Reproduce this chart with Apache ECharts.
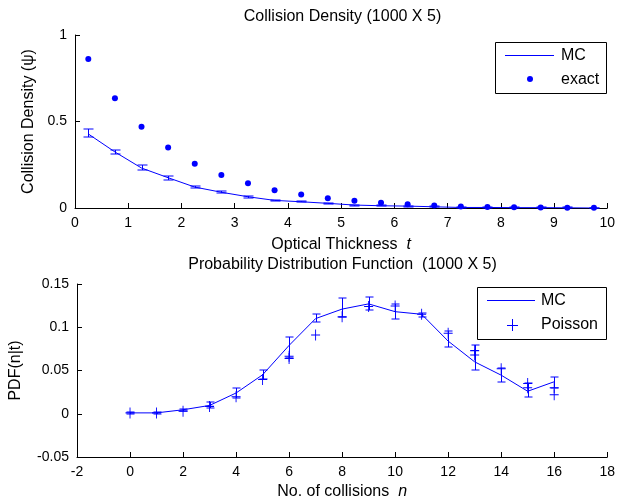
<!DOCTYPE html>
<html>
<head>
<meta charset="utf-8">
<script src="https://cdn.jsdelivr.net/npm/echarts@6/dist/echarts.min.js"></script>
<style>html,body{margin:0;padding:0;background:#fff}#c{width:618px;height:502px}</style>
</head>
<body>
<div id="c"></div>
<script>
// ---- Top panel: collision density ----
const tVals = [0.25,0.75,1.25,1.75,2.25,2.75,3.25,3.75,4.25,4.75,5.25,5.75,6.25,6.75,7.25,7.75,8.25,8.75,9.25,9.75];
const mcDensity     = [0.428,0.324,0.231,0.175,0.121,0.091,0.065,0.044,0.036,0.027,0.017,0.013,0.011,0.007,0.003,0.003,0.002,0.002,0.001,0.000];
const mcDensityLow  = [0.410,0.313,0.220,0.164,0.113,0.085,0.060,0.040,0.032,0.024,0.014,0.010,0.008,0.005,0.001,0.001,0.000,0.000,0.000,0.000];
const mcDensityHigh = [0.455,0.335,0.246,0.185,0.128,0.096,0.069,0.048,0.040,0.030,0.020,0.016,0.014,0.009,0.005,0.005,0.004,0.004,0.003,0.002];
const exactDensity  = [0.861,0.634,0.470,0.349,0.256,0.191,0.143,0.102,0.078,0.057,0.042,0.030,0.021,0.014,0.008,0.006,0.004,0.003,0.002,0.001];

// ---- Bottom panel: PDF(n|t) ----
const nVals   = [0,1,2,3,4,5,6,7,8,9,10,11,12,13,14,15,16];
const mcPdf     = [0.001,0.001,0.0046,0.0096,0.024,0.045,0.079,0.110,0.121,0.127,0.118,0.115,0.084,0.060,0.0446,0.026,0.037];
const mcPdfLow  = [0.000,0.000,0.0030,0.0070,0.018,0.040,0.065,0.1065,0.112,0.1195,0.110,0.112,0.077,0.051,0.037,0.019,0.030];
const mcPdfHigh = [0.002,0.002,0.0060,0.0140,0.030,0.051,0.0885,0.1155,0.134,0.135,0.1265,0.116,0.0955,0.079,0.053,0.0355,0.043];
const poissonPdf = [0.001,0.001,0.003,0.0085,0.0196,0.0396,0.064,0.091,0.112,0.124,0.1245,0.115,0.093,0.073,0.052,0.035,0.030];
const poissonExtraN   = [6,13,15,16];
const poissonExtraPdf = [0.0665,0.068,0.030,0.022];

const topTicks = {min:0,max:10,interval:1};
const botTicks = {min:-2,max:18,interval:2};

const FONT = '"Liberation Sans", Arial, sans-serif';
const BLUE = '#0000ff';

function errBars(xs, lo, hi, capHalf, xi, yi) {
  return {
    type:'custom', xAxisIndex:xi, yAxisIndex:yi, z:3,
    itemStyle:{color:BLUE, borderColor:BLUE},
    data: xs.map((x,i)=>[x, lo[i], hi[i]]),
    encode:{x:0, y:[1,2]},
    renderItem: function(params, api){
      const x = api.value(0);
      const a = api.coord([x, api.value(1)]);
      const b = api.coord([x, api.value(2)]);
      const px = Math.round(a[0]) + 0.5;
      const ya = Math.round(a[1]), yb = Math.round(b[1]);
      const d = 'M' + px + ',' + ya + 'L' + px + ',' + yb +
                'M' + (px-capHalf) + ',' + ya + 'L' + (px+capHalf) + ',' + ya +
                'M' + (px-capHalf) + ',' + yb + 'L' + (px+capHalf) + ',' + yb;
      return {type:'path', shape:{pathData:d},
              style:{stroke:BLUE, fill:'none', lineWidth:1}};
    }
  };
}

function axisBase() {
  return {
    axisLine:{show:true, onZero:false, lineStyle:{color:'#000', width:1}},
    axisTick:{show:true, inside:true, length:5, lineStyle:{color:'#000'}},
    axisLabel:{color:'#000', fontSize:14, fontFamily:FONT},
    splitLine:{show:false},
    nameTextStyle:{color:'#000', fontSize:16, fontFamily:FONT, rich:{i:{fontStyle:'italic', fontSize:16, fontFamily:FONT, color:'#000'}}}
  };
}

const crossPath = 'path://M5,0L5,10M0,5L10,5';

function lt(text) { return {text:text, fill:'#000', font:'16px ' + FONT, textVerticalAlign:'middle'}; }

const option = {
  animation:false,
  backgroundColor:'#fff',
  title:[
    {text:'Collision Density (1000 X 5)', left:342.5, top:9, textAlign:'center', padding:0,
     textStyle:{fontSize:16, fontWeight:'normal', color:'#000', fontFamily:FONT}},
    {text:'Probability Distribution Function  (1000 X 5)', left:342.5, top:257, textAlign:'center', padding:0,
     textStyle:{fontSize:16, fontWeight:'normal', color:'#000', fontFamily:FONT}}
  ],
  grid:[
    {left:75, top:35, width:535, height:173},
    {left:75, top:284, width:535, height:173}
  ],
  xAxis:[
    Object.assign(axisBase(), {type:'value', gridIndex:0, min:topTicks.min, max:topTicks.max, interval:topTicks.interval,
      name:'Optical Thickness  {i|t}', nameLocation:'middle', nameGap:29}),
    Object.assign(axisBase(), {type:'value', gridIndex:1, min:botTicks.min, max:botTicks.max, interval:botTicks.interval,
      name:'No. of collisions  {i|n}', nameLocation:'middle', nameGap:27})
  ],
  yAxis:[
    Object.assign(axisBase(), {type:'value', gridIndex:0, min:0, max:1, interval:0.5,
      name:'Collision Density (ψ)', nameLocation:'middle', nameGap:34}),
    Object.assign(axisBase(), {type:'value', gridIndex:1, min:-0.05, max:0.15, interval:0.05,
      name:'PDF(n|t)', nameLocation:'middle', nameGap:53})
  ],
  series:[
    {name:'MC', type:'line', xAxisIndex:0, yAxisIndex:0, data:tVals.map((t,i)=>[t, mcDensity[i]]),
     showSymbol:false, lineStyle:{color:BLUE, width:1}, itemStyle:{color:BLUE}, z:4},
    errBars(tVals, mcDensityLow, mcDensityHigh, 5, 0, 0),
    {name:'exact', type:'scatter', xAxisIndex:0, yAxisIndex:0, data:tVals.map((t,i)=>[t, exactDensity[i]]),
     symbol:'circle', symbolSize:6, itemStyle:{color:BLUE, opacity:1}, z:5},

    {name:'MC', type:'line', xAxisIndex:1, yAxisIndex:1, data:nVals.map((n,i)=>[n, mcPdf[i]]),
     showSymbol:false, lineStyle:{color:BLUE, width:1}, itemStyle:{color:BLUE}, z:4},
    errBars(nVals, mcPdfLow, mcPdfHigh, 4, 1, 1),
    {name:'Poisson', type:'scatter', xAxisIndex:1, yAxisIndex:1, data:nVals.map((n,i)=>[n, poissonPdf[i]]),
     symbol:crossPath, symbolSize:[9,11], itemStyle:{color:'none', borderColor:BLUE, borderWidth:1, opacity:1}, z:5},
    {name:'Poisson', type:'scatter', xAxisIndex:1, yAxisIndex:1, data:poissonExtraN.map((n,i)=>[n, poissonExtraPdf[i]]),
     symbol:crossPath, symbolSize:[9,11], itemStyle:{color:'none', borderColor:BLUE, borderWidth:1, opacity:1}, z:5}
  ],
  graphic:[
    {type:'group', z:100, children:[
      {type:'rect', shape:{x:495.5,y:42.5,width:111,height:51}, style:{fill:'#fff', stroke:'#000', lineWidth:1}},
      {type:'rect', shape:{x:505,y:55,width:49,height:1}, style:{fill:BLUE}},
      {type:'text', x:561, y:56, style:lt('MC')},
      {type:'circle', shape:{cx:530,cy:79,r:3}, style:{fill:BLUE}},
      {type:'text', x:561, y:80, style:lt('exact')}
    ]},
    {type:'group', z:100, children:[
      {type:'rect', shape:{x:477.5,y:287.5,width:129,height:52}, style:{fill:'#fff', stroke:'#000', lineWidth:1}},
      {type:'rect', shape:{x:487,y:300,width:48,height:1}, style:{fill:BLUE}},
      {type:'text', x:541, y:301, style:lt('MC')},
      {type:'rect', shape:{x:512,y:319,width:1,height:12}, style:{fill:BLUE}},
      {type:'rect', shape:{x:507,y:325,width:11,height:1}, style:{fill:BLUE}},
      {type:'text', x:541, y:325, style:lt('Poisson')}
    ]}
  ]
};

const chart = echarts.init(document.getElementById('c'), null, {renderer:'canvas'});
chart.setOption(option);
</script>
</body>
</html>
